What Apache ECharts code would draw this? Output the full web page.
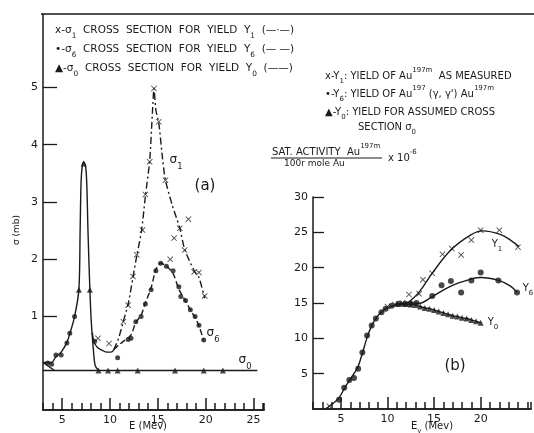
<!DOCTYPE html>
<html>
<head>
<meta charset="utf-8">
<script src="https://cdn.jsdelivr.net/npm/echarts@6/dist/echarts.min.js"></script>
<style>
  html, body { margin: 0; padding: 0; background: #fff; }
  #chart { width: 534px; height: 433px; }
</style>
</head>
<body>
<div id="chart"></div>
<script>
// ---- panel (a): cross sections, E in Mev, sigma in mb ----
var aLabels = [5,10,15,20,25];
var aYLabels = [1,2,3,4,5];

var sigma1X = [[8.75,0.62],[9.9,0.53],[11.4,0.91],[11.9,1.2],[12.4,1.7],[12.8,2.08],[13.4,2.51],[13.7,3.13],
  [14.15,3.7],[14.6,4.98],[15.1,4.4],[15.8,3.38],[16.3,2.0],[16.7,2.37],[17.3,2.54],[17.8,2.16],
  [18.2,2.7],[18.8,1.78],[19.3,1.77],[19.9,1.36]];
var sigma6Dots = [[8.4,0.57],[10.8,0.28],[11.9,0.6],[12.2,0.62],[12.7,0.91],[13.25,1.0],[13.7,1.22],[14.3,1.47],
  [14.8,1.8],[15.3,1.93],[15.9,1.88],[16.6,1.8],[17.2,1.52],[17.4,1.35],[17.9,1.28],[18.4,1.12],
  [18.9,1.0],[19.3,0.85],[19.8,0.59]];
var lowDots = [[3.5,0.19],[3.9,0.17],[4.35,0.33],[4.9,0.33],[5.5,0.54],[5.8,0.71],[6.3,1.0]];
var sigma0Tri = [[6.75,1.47],[7.25,3.67],[7.9,1.47],[8.8,0.06],[9.8,0.06],[10.8,0.06],[12.9,0.06],
  [16.8,0.06],[19.8,0.06],[21.8,0.06]];

var sigma0Curve = [[3.0,0.2],[3.5,0.2],[3.9,0.2],[4.35,0.3],[4.9,0.38],[5.5,0.55],[5.8,0.7],[6.3,1.0],
  [6.75,1.47],[6.88,2.5],[6.98,3.35],[7.1,3.62],[7.25,3.7],[7.45,3.62],[7.58,3.3],[7.7,2.5],[7.9,1.47],
  [8.05,0.9],[8.25,0.45],[8.45,0.15],[8.8,0.06]];
var sigma0Base = [[3.0,0.06],[25.4,0.06]];
var sigma0Tail = [[3.0,0.2],[4.2,0.06]];
var troughCurve = [[8.15,0.72],[8.35,0.55],[8.7,0.46],[9.2,0.41],[9.7,0.38],[10.1,0.38],[10.4,0.42]];
var sigma1Curve = [[10.4,0.42],[10.9,0.62],[11.4,0.92],[11.9,1.22],[12.4,1.68],[12.8,2.06],[13.3,2.5],
  [13.7,3.1],[14.15,3.72],[14.45,4.6],[14.6,4.98],[14.8,4.6],[15.1,4.38],[15.5,3.75],[15.8,3.38],
  [16.5,2.95],[17.3,2.54],[17.8,2.18],[18.8,1.8],[19.3,1.68],[19.9,1.32]];
var sigma6Curve = [[10.4,0.42],[10.9,0.5],[11.5,0.58],[12.2,0.68],[12.7,0.9],[13.25,1.02],[13.7,1.24],
  [14.3,1.5],[14.8,1.82],[15.3,1.93],[15.9,1.88],[16.6,1.75],[17.2,1.48],[17.9,1.27],[18.4,1.12],
  [18.9,0.98],[19.3,0.84],[19.8,0.58]];

// ---- panel (b): saturated activity x 10^-6 ----
var bLabels = [5,10,15,20];
var bYLabels = [5,10,15,20,25,30];

var y1X = [[3.76,0.4],[10.0,14.5],[10.8,14.8],[11.6,15.0],[12.3,16.2],[13.4,16.3],[13.8,18.3],[14.8,19.2],
  [15.9,21.9],[16.9,22.7],[17.9,21.8],[19.0,23.9],[20.0,25.3],[22.0,25.3],[24.0,22.9]];
var y6Dots = [[13.1,15.0],[14.8,16.0],[15.8,17.5],[16.8,18.1],[17.9,16.5],[19.0,18.2],[20.0,19.3],
  [21.9,18.2],[23.9,16.5]];
var riseDots = [[4.8,1.3],[5.35,3.0],[5.9,4.1],[6.4,4.4],[6.85,5.7],[7.3,8.0],[7.8,10.4],[8.3,11.8],
  [8.75,12.8],[9.35,13.7],[9.8,14.2],[10.45,14.6],[11.2,14.9],[11.9,14.9],[12.5,14.9]];
var y0Tri = [[11.0,14.9],[11.5,14.9],[12.0,14.85],[12.5,14.8],[13.0,14.7],[13.5,14.5],[14.0,14.3],
  [14.5,14.2],[15.0,14.0],[15.5,13.8],[16.0,13.6],[16.5,13.4],[17.0,13.2],[17.5,13.1],[18.0,12.9],
  [18.5,12.8],[19.0,12.6],[19.5,12.4],[20.0,12.2]];

var riseCurve = [[3.3,0],[4.0,0.6],[4.8,1.6],[5.5,3.2],[6.2,4.6],[6.8,5.9],[7.3,7.9],[7.8,10.1],[8.3,11.8],
  [8.8,12.9],[9.4,13.8],[10.0,14.3],[10.8,14.7],[11.6,14.9],[12.2,15.05]];
var y1Curve = [[12.2,15.05],[13.3,16.4],[14.9,19.4],[16.8,22.5],[18.9,24.6],[20.2,25.2],[22.1,24.7],
  [23.3,23.8],[24.1,23.0]];
var y6Curve = [[12.2,15.05],[13.3,14.95],[14.8,15.9],[16.8,17.4],[19.0,18.4],[20.0,18.6],[21.9,18.2],
  [23.2,17.4],[23.9,16.5]];

var INK = '#1a1a1a';
var FONT = '"DejaVu Sans", sans-serif';
var xPath = 'path://M0,1L1,0L5,4L9,0L10,1L6,5L10,9L9,10L5,6L1,10L0,9L4,5Z';

// E axis: one tick per Mev, labels only at multiples of 5 up to lastLabel
function axisX(grid, min, max, lastLabel) {
  return {
    type: 'value', gridIndex: grid, min: min, max: max, interval: 1, position: 'bottom',
    axisLine: { onZero: false, lineStyle: { color: INK, width: 1.5 } },
    axisTick: { show: true, inside: true, length: 7, lineStyle: { color: INK, width: 1.5 } },
    axisLabel: { color: INK, fontFamily: FONT, fontSize: 11, margin: 5,
      formatter: function (v) { return (v % 5 === 0 && v <= lastLabel) ? String(v) : ''; } },
    splitLine: { show: false }
  };
}
// longer ticks at the labelled values
function axisXMajor(grid, min, max, values) {
  return {
    type: 'value', gridIndex: grid, min: min, max: max, position: 'bottom',
    axisLine: { onZero: false, lineStyle: { color: INK, width: 1.5 } },
    axisTick: { show: true, inside: true, length: 12, customValues: values,
      lineStyle: { color: INK, width: 1.5 } },
    axisLabel: { show: false },
    splitLine: { show: false }
  };
}
function axisY(grid, min, max, labels, len) {
  return {
    type: 'value', gridIndex: grid, min: min, max: max,
    axisLine: { onZero: false, lineStyle: { color: INK, width: 1.5 } },
    axisTick: { show: true, inside: true, length: len, customValues: labels,
      lineStyle: { color: INK, width: 1.3 } },
    axisLabel: { customValues: labels, color: INK, fontFamily: FONT, fontSize: 11, margin: 5 },
    splitLine: { show: false }
  };
}
function curve(data, xi, type, smooth) {
  return { type: 'line', xAxisIndex: xi, yAxisIndex: xi < 2 ? 0 : 1, data: data,
    showSymbol: false, smooth: smooth, silent: true,
    lineStyle: { color: INK, width: 1.4, type: type } };
}
function marks(data, xi, symbol, size) {
  return { type: 'scatter', xAxisIndex: xi, yAxisIndex: xi < 2 ? 0 : 1, data: data,
    symbol: symbol, symbolSize: size, itemStyle: { color: INK } };
}

function makeRich(size) {
  var small = Math.round(size * 0.7 * 10) / 10;
  var shift = Math.round(size * 0.4);
  return {
    n: { fontSize: size, fontFamily: FONT, lineHeight: size + 2 * shift, verticalAlign: 'middle', fill: INK },
    sub: { fontSize: small, fontFamily: FONT, lineHeight: small, verticalAlign: 'bottom', fill: INK },
    sup: { fontSize: small, fontFamily: FONT, lineHeight: small, verticalAlign: 'top', fill: INK }
  };
}
function label(x, y, text, align, size, rot) {
  size = size || 10.5;
  return { type: 'text', x: x, y: y, silent: true, rotation: rot || 0,
    style: { text: text, rich: makeRich(size), fill: INK, font: size + 'px ' + FONT,
      align: align || 'left', verticalAlign: 'middle' } };
}

var chart = echarts.init(document.getElementById('chart'));
chart.setOption({
  animation: false,
  backgroundColor: '#fff',
  grid: [
    { left: 43, top: 14, width: 221, height: 396 },
    { left: 313, top: 197, width: 221, height: 212 }
  ],
  xAxis: [
    axisX(0, 3, 26.1, 25),
    axisXMajor(0, 3, 26.1, aLabels),
    axisX(1, 2, 25.4, 20),
    axisXMajor(1, 2, 25.4, bLabels)
  ],
  yAxis: [
    axisY(0, -0.63, 6.28, aYLabels, 14),
    axisY(1, 0, 30, bYLabels, 11)
  ],
  series: [
    curve(sigma0Base, 0, 'solid', false),
    curve(sigma0Tail, 0, 'solid', false),
    curve(sigma0Curve, 0, 'solid', 0.3),
    curve(troughCurve, 0, 'solid', 0.4),
    curve(sigma1Curve, 0, [7, 3, 2, 3], 0.25),
    curve(sigma6Curve, 0, [6, 3], 0.3),
    marks(sigma1X, 0, xPath, 6),
    marks(sigma6Dots, 0, 'circle', 5),
    marks(lowDots, 0, 'circle', 5),
    marks(sigma0Tri, 0, 'triangle', 6),

    curve(riseCurve, 2, 'solid', 0.3),
    curve(y1Curve, 2, 'solid', 0.4),
    curve(y6Curve, 2, 'solid', 0.4),
    curve(y0Tri, 2, 'solid', 0.3),
    marks(y1X, 2, xPath, 6),
    marks(y6Dots, 2, 'circle', 6),
    marks(riseDots, 2, 'circle', 6),
    marks(y0Tri, 2, 'triangle', 6)
  ],
  graphic: [
    { type: 'line', silent: true, shape: { x1: 41, y1: 14, x2: 534, y2: 14 },
      style: { stroke: INK, lineWidth: 1.5 } },

    label(55, 30, '{n|x-σ}{sub|1}{n|  CROSS  SECTION  FOR  YIELD  Y}{sub|1}{n|  (—·—)}', 'left', 10.5),
    label(55, 49, '{n|•-σ}{sub|6}{n|  CROSS  SECTION  FOR  YIELD  Y}{sub|6}{n|  (— —)}', 'left', 10.5),
    label(55, 68, '{n|▲-σ}{sub|0}{n|  CROSS  SECTION  FOR  YIELD  Y}{sub|0}{n|  (——)}', 'left', 10.5),

    label(325, 76, '{n|x-Y}{sub|1}{n|: YIELD OF Au}{sup|197m}{n|  AS MEASURED}', 'left', 10),
    label(325, 94, '{n|•-Y}{sub|6}{n|: YIELD OF Au}{sup|197}{n| (γ, γ\') Au}{sup|197m}', 'left', 10),
    label(325, 112, '{n|▲-Y}{sub|0}{n|: YIELD FOR ASSUMED CROSS}', 'left', 10),
    label(358, 127, '{n|SECTION σ}{sub|0}', 'left', 10),

    label(272, 152, '{n|SAT. ACTIVITY  Au}{sup|197m}', 'left', 10),
    { type: 'line', silent: true, shape: { x1: 271, y1: 158, x2: 382, y2: 158 },
      style: { stroke: INK, lineWidth: 1 } },
    label(284, 164, '{n|100r mole Au}', 'left', 9),
    label(388, 158, '{n|x 10}{sup|-6}', 'left', 10),

    label(17, 230, '{n|σ (mb)}', 'center', 9, Math.PI / 2),
    label(148, 426, '{n|E (Mev)}', 'center', 10),
    label(432, 426, '{n|E}{sub|γ}{n| (Mev)}', 'center', 10),

    label(205, 186, '{n|(a)}', 'center', 15),
    label(455, 366, '{n|(b)}', 'center', 15),
    label(176, 160, '{n|σ}{sub|1}', 'center', 12),
    label(213, 333, '{n|σ}{sub|6}', 'center', 12),
    label(245, 360, '{n|σ}{sub|0}', 'center', 12),
    label(497, 244, '{n|Y}{sub|1}', 'center', 10),
    label(528, 288, '{n|Y}{sub|6}', 'center', 10),
    label(493, 322, '{n|Y}{sub|0}', 'center', 10)
  ]
});
</script>
</body>
</html>
